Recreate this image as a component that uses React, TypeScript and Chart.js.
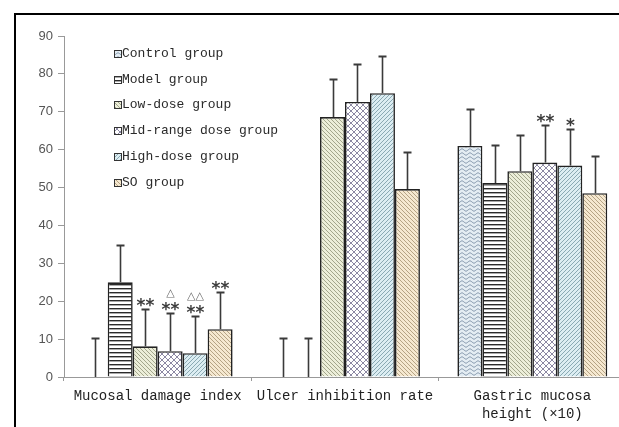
import React, { useEffect, useRef } from "react";
import { Chart, registerables } from "chart.js";

Chart.register(...registerables);

// ---------- data ----------
const categories: (string | string[])[] = [
  "Mucosal damage index",
  "Ulcer inhibition rate",
  ["Gastric mucosa", "height (×10)"],
];
const groupNames = [
  "Control group",
  "Model group",
  "Low-dose group",
  "Mid-range dose group",
  "High-dose group",
  "SO group",
];
const controlValues = [0, 0, 61.0];
const controlErrors = [10.2, 10.2, 9.7];
const modelValues = [25.0, 0, 51.2];
const modelErrors = [9.8, 10.2, 10.0];
const lowValues = [8.1, 68.6, 54.3];
const lowErrors = [9.8, 10.0, 9.7];
const midValues = [6.8, 72.6, 56.6];
const midErrors = [10.0, 10.1, 9.8];
const highValues = [6.3, 74.9, 55.8];
const highErrors = [9.9, 9.8, 9.6];
const soValues = [12.6, 49.6, 48.5];
const soErrors = [9.9, 9.9, 9.8];

const starMarks = [
  ["", "", ""],
  ["", "", ""],
  ["**", "", ""],
  ["**", "", "**"],
  ["**", "", "*"],
  ["**", "", ""],
];
const triangleMarks = [
  ["", "", ""],
  ["", "", ""],
  ["", "", ""],
  ["△", "", ""],
  ["△△", "", ""],
  ["", "", ""],
];
const yTicks = [0, 10, 20, 30, 40, 50, 60, 70, 80, 90];

const allValues = [controlValues, modelValues, lowValues, midValues, highValues, soValues];
const allErrors = [controlErrors, modelErrors, lowErrors, midErrors, highErrors, soErrors];

// ---------- patterns ----------
type Kind = "wave" | "hlines" | "back" | "fwd" | "lattice";
function makePattern(kind: Kind, bg: string, fg: string): CanvasPattern | string {
  const c = document.createElement("canvas");
  let w = 4,
    h = 4;
  if (kind === "wave") {
    w = 8;
    h = 4;
  } else if (kind === "lattice") {
    w = 6;
    h = 6;
  }
  c.width = w;
  c.height = h;
  const g = c.getContext("2d");
  if (!g) return bg;
  g.fillStyle = bg;
  g.fillRect(0, 0, w, h);
  g.strokeStyle = fg;
  g.fillStyle = fg;
  g.lineWidth = 1;
  if (kind === "hlines") {
    g.fillRect(0, 0, w, 1.4);
  } else if (kind === "wave") {
    g.beginPath();
    for (let x = 0; x <= w; x += 0.5) {
      const y = 2 + 1.1 * Math.sin((2 * Math.PI * x) / w);
      if (x === 0) g.moveTo(x, y);
      else g.lineTo(x, y);
    }
    g.stroke();
  } else if (kind === "back") {
    g.beginPath();
    g.moveTo(-1, -1);
    g.lineTo(w + 1, h + 1);
    g.moveTo(-1, h - 1);
    g.lineTo(1, h + 1);
    g.moveTo(w - 1, -1);
    g.lineTo(w + 1, 1);
    g.stroke();
  } else if (kind === "fwd") {
    g.beginPath();
    g.moveTo(-1, h + 1);
    g.lineTo(w + 1, -1);
    g.moveTo(-1, 1);
    g.lineTo(1, -1);
    g.moveTo(w - 1, h + 1);
    g.lineTo(w + 1, h - 1);
    g.stroke();
  } else if (kind === "lattice") {
    g.beginPath();
    g.moveTo(-1, -1);
    g.lineTo(w + 1, h + 1);
    g.moveTo(-1, h + 1);
    g.lineTo(w + 1, -1);
    g.stroke();
  }
  const p = g.createPattern(c, "repeat");
  return p || bg;
}

const W = 630;
const H = 427;

export default function App() {
  const ref = useRef<HTMLCanvasElement | null>(null);

  useEffect(() => {
    const canvas = ref.current;
    if (!canvas) return;
    const fills = [
      makePattern("wave", "#e4edf3", "#7d91a6"),
      makePattern("hlines", "#ffffff", "#2a2a2a"),
      makePattern("back", "#eceed9", "#a3a68c"),
      makePattern("lattice", "#ffffff", "#8c88a3"),
      makePattern("fwd", "#dcedf2", "#8aa9b3"),
      makePattern("back", "#f5e8d0", "#b5a384"),
    ];

    const errorPlugin = {
      id: "errs",
      afterDatasetsDraw(chart: any) {
        const ctx = chart.ctx;
        const ys = chart.scales.y;
        ctx.save();
        chart.data.datasets.forEach((ds: any, di: number) => {
          const meta = chart.getDatasetMeta(di);
          meta.data.forEach((el: any, i: number) => {
            const v = allValues[di][i];
            const e = allErrors[di][i];
            const x = Math.round(el.x) + 0.5;
            const yb = ys.getPixelForValue(v);
            const yt = Math.round(ys.getPixelForValue(v + e)) + 0.5;
            ctx.strokeStyle = "#3a3a3a";
            ctx.lineWidth = 1.6;
            ctx.beginPath();
            ctx.moveTo(x, yb);
            ctx.lineTo(x, yt);
            ctx.stroke();
            ctx.lineWidth = 2;
            ctx.beginPath();
            ctx.moveTo(x - 4, yt);
            ctx.lineTo(x + 4, yt);
            ctx.stroke();
            const s = starMarks[di][i];
            const t = triangleMarks[di][i];
            if (s) {
              ctx.fillStyle = "#3c3c3c";
              ctx.font = "bold 17px 'DejaVu Sans'";
              ctx.textAlign = "center";
              ctx.textBaseline = "alphabetic";
              ctx.fillText(s, x, yt - 8 + 0.56 * 17);
            }
            if (t) {
              ctx.fillStyle = "#6a6a6a";
              ctx.font = "11px 'DejaVu Sans'";
              ctx.textAlign = "center";
              ctx.textBaseline = "middle";
              ctx.fillText(t, x, yt - 20);
            }
          });
        });
        ctx.restore();
      },
    };

    const legendPlugin = {
      id: "legendInside",
      afterDraw(chart: any) {
        const ctx = chart.ctx;
        ctx.save();
        groupNames.forEach((name, i) => {
          const cy = Math.round(54 + i * 25.7);
          ctx.fillStyle = fills[i] as any;
          ctx.fillRect(114, cy - 4, 7, 7);
          ctx.strokeStyle = "#333";
          ctx.lineWidth = 1;
          ctx.strokeRect(114.5, cy - 3.5, 7, 7);
          ctx.fillStyle = "#2a2a2a";
          ctx.font = "13px 'Liberation Mono'";
          ctx.textAlign = "left";
          ctx.textBaseline = "middle";
          ctx.fillText(name, 122, cy);
        });
        ctx.restore();
      },
    };

    const chart = new Chart(canvas, {
      type: "bar",
      data: {
        labels: categories as any,
        datasets: groupNames.map((name, i) => ({
          label: name,
          data: allValues[i],
          backgroundColor: fills[i] as any,
          borderColor: "#222",
          borderWidth: 1.6,
          borderSkipped: "start" as any,
          categoryPercentage: 0.8,
          barPercentage: 1.0,
        })),
      },
      options: {
        animation: false,
        responsive: false,
        devicePixelRatio: 1,
        layout: { padding: { left: 0, top: 36, right: W - 626, bottom: 0 } },
        plugins: {
          legend: { display: false },
          tooltip: { enabled: false },
          title: { display: false },
        },
        scales: {
          x: {
            grid: {
              offset: true,
              drawOnChartArea: false,
              tickLength: 4,
              color: "#999",
            },
            border: { color: "#999", width: 1 },
            ticks: {
              color: "#222",
              font: { family: "'Liberation Mono'", size: 14, lineHeight: 1.3 },
              padding: 6,
              maxRotation: 0,
              autoSkip: false,
            },
            afterFit: (s: any) => {
              s.height = 50;
            },
          },
          y: {
            min: 0,
            max: 90,
            afterBuildTicks: (s: any) => {
              s.ticks = yTicks.map((v) => ({ value: v }));
            },
            ticks: {
              color: "#555",
              font: { family: "'Liberation Sans'", size: 13 },
              padding: 5,
            },
            grid: { drawOnChartArea: false, tickLength: 6, color: "#999" },
            border: { color: "#999", width: 1 },
            afterFit: (s: any) => {
              s.width = 64;
            },
          },
        },
      },
      plugins: [errorPlugin, legendPlugin],
    });
    return () => chart.destroy();
  }, []);

  return (
    <div
      style={{
        position: "fixed",
        left: 0,
        top: 0,
        width: 619,
        height: 427,
        overflow: "hidden",
        background: "#fff",
      }}
    >
      <div
        style={{
          position: "absolute",
          left: 14,
          top: 13,
          width: 700,
          height: 500,
          borderTop: "2px solid #000",
          borderLeft: "2px solid #000",
        }}
      />
      <canvas
        ref={ref}
        width={W}
        height={H}
        style={{ position: "absolute", left: 0, top: 0, width: W, height: H }}
      />
    </div>
  );
}
